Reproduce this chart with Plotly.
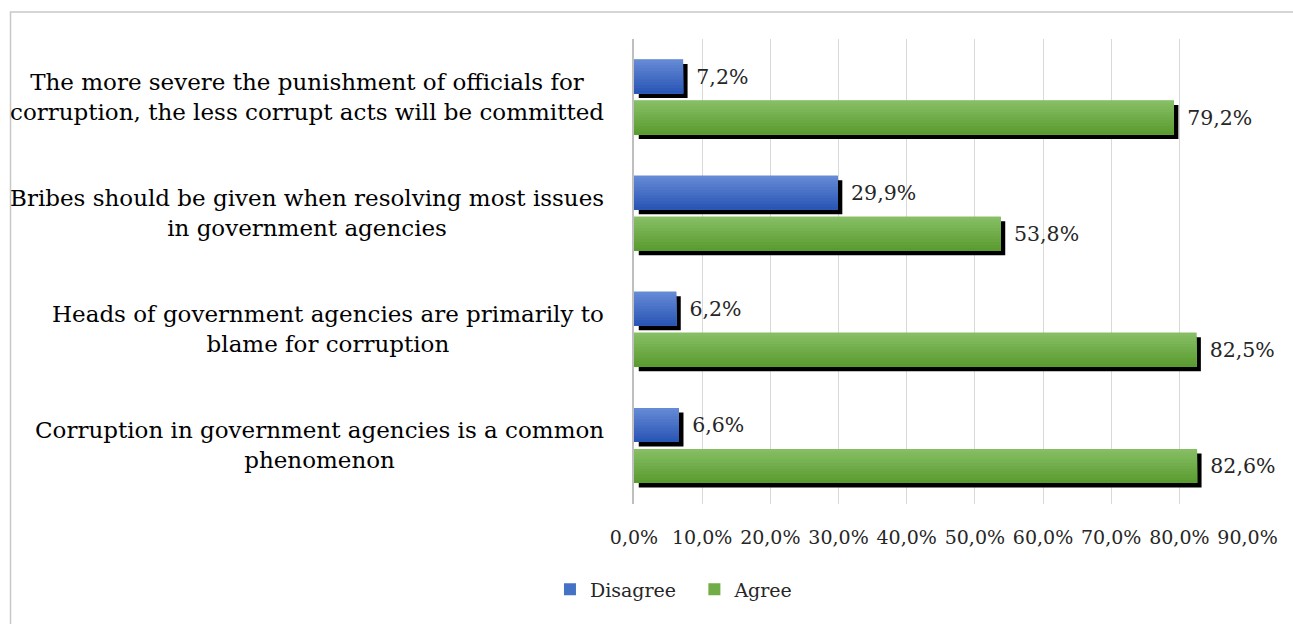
import plotly.graph_objects as go

categories = [
    "The more severe the punishment of officials for<br>corruption, the less corrupt acts will be committed",
    "Bribes should be given when resolving most issues<br>in government agencies",
    "Heads of government agencies are primarily to<br>blame for corruption",
    "Corruption in government agencies is a common<br>phenomenon",
]
cat_ids = ["c1", "c2", "c3", "c4"]
disagree = [7.2, 29.9, 6.2, 6.6]
agree = [79.2, 53.8, 82.5, 82.6]
series_names = ["Disagree", "Agree"]
tick_vals = [0, 10, 20, 30, 40, 50, 60, 70, 80, 90]
tick_text = ["0,0%", "10,0%", "20,0%", "30,0%", "40,0%", "50,0%", "60,0%",
             "70,0%", "80,0%", "90,0%"]

FONT = "DejaVu Serif"
W, H = 1293, 624
L, R_main, T, B_main = 634, 1248, 39, 504
DX, DY = 4.5, 4.5
R_sh, B_sh = R_main + DX, B_main + DY
pw = R_sh - L
ph = B_sh - T
main_xd = [0, (R_main - L) / pw]
sh_xd = [DX / pw, 1]
main_yd = [DY / ph, 1]
sh_yd = [0, (B_main - T) / ph]

cat_px = (B_main - T) / 4.0
bar_h = 34 / cat_px
off_blue = -37.5 / cat_px
off_green = 3.5 / cat_px

colors = {
    "Disagree": ("#4472c4", (100, 137, 213), (42, 86, 181)),
    "Agree": ("#70ad47", (134, 190, 100), (91, 156, 48)),
}
legend_labels = {"Disagree": "Disagree\u2002\u2009", "Agree": "Agree"}

fig = go.Figure()

# subplot 1: grid only
fig.add_trace(go.Scatter(x=[None], y=[None], xaxis="x", yaxis="y",
                         showlegend=False, hoverinfo="skip"))

# subplot 2: shadows
for name, vals, off in [("Disagree", disagree, off_blue), ("Agree", agree, off_green)]:
    fig.add_trace(go.Bar(
        x=vals, y=cat_ids, orientation="h", xaxis="x2", yaxis="y2",
        offset=off, width=bar_h, marker=dict(color="black", line=dict(width=0)),
        showlegend=False, hoverinfo="skip"))

# subplot 3: main gradient bars
N = 12
for name, vals, off in [("Disagree", disagree, off_blue), ("Agree", agree, off_green)]:
    mid, top, bot = colors[name]
    fig.add_trace(go.Bar(
        x=vals, y=cat_ids, orientation="h", xaxis="x3", yaxis="y3",
        name=legend_labels[name],
        offset=off, width=bar_h, marker=dict(color=mid, line=dict(width=0)),
        showlegend=True, legendgroup=name))
    for k in range(N):
        t = k / (N - 1)
        c = tuple(int(round(top[i] + (bot[i] - top[i]) * t)) for i in range(3))
        start = off + bar_h * k / N
        fig.add_trace(go.Bar(
            x=vals, y=cat_ids, orientation="h", xaxis="x3", yaxis="y3",
            offset=start, width=off + bar_h - start,
            marker=dict(color="rgb(%d,%d,%d)" % c, line=dict(width=0)),
            showlegend=False, hoverinfo="skip", legendgroup=name))
    fig.add_trace(go.Bar(
        x=vals, y=cat_ids, orientation="h", xaxis="x3", yaxis="y3",
        offset=off, width=bar_h, marker=dict(color="rgba(0,0,0,0)", line=dict(width=0)),
        texttemplate="\u2002%{x:.1f}%", textposition="outside", cliponaxis=False,
        textfont=dict(family=FONT, size=20.5, color="#262626"),
        showlegend=False, hoverinfo="skip"))

yrange = [3.5, -0.5]
common_y = dict(type="category", categoryorder="array", categoryarray=cat_ids,
                range=yrange, showticklabels=False, showgrid=False, zeroline=False,
                fixedrange=True)

fig.update_layout(
    width=W, height=H,
    margin=dict(l=L, r=W - R_sh, t=T, b=H - B_sh, pad=0),
    paper_bgcolor="white", plot_bgcolor="rgba(0,0,0,0)",
    barmode="overlay",
    separators=",.",
    font=dict(family=FONT, color="#262626"),
    xaxis=dict(domain=main_xd, range=[0, 90], tickvals=tick_vals, ticktext=tick_text,
               showgrid=True, gridcolor="#d9d9d9", gridwidth=1,
               zeroline=False, showline=False, ticks="", anchor="y",
               tickfont=dict(family=FONT, size=19, color="#262626"), ticklabelstandoff=20),
    yaxis=dict(domain=main_yd, anchor="x", showline=True, linecolor="#bfbfbf",
               linewidth=1.5, **common_y),
    xaxis2=dict(domain=sh_xd, range=[0, 90], anchor="y2", showticklabels=False,
                showgrid=False, zeroline=False, showline=False),
    yaxis2=dict(domain=sh_yd, anchor="x2", **common_y),
    xaxis3=dict(domain=main_xd, range=[0, 90], anchor="y3", showticklabels=False,
                showgrid=False, zeroline=False, showline=False),
    yaxis3=dict(domain=main_yd, anchor="x3", **common_y),
    legend=dict(orientation="h", x=(674 - L) / pw, xanchor="center",
                y=(B_sh - 590) / ph, yanchor="middle",
                font=dict(family=FONT, size=19, color="#262626"),
                itemwidth=30, tracegroupgap=0, bgcolor="rgba(0,0,0,0)"),
    showlegend=True,
)

for cid, label in zip(cat_ids, categories):
    fig.add_annotation(x=-(L - 606) / pw, xref="paper", y=cid, yref="y3",
                       text=label, showarrow=False, xanchor="right", yanchor="middle",
                       align="center", font=dict(family=FONT, size=23, color="#000000"))

# chart border
fig.add_shape(type="rect", xref="paper", yref="paper",
              x0=(10 - L) / pw, x1=(1300 - L) / pw,
              y0=(B_sh - 630) / ph, y1=(B_sh - 12) / ph,
              line=dict(color="#c8c8c8", width=1.5), fillcolor="rgba(0,0,0,0)",
              layer="below")

fig.write_html("out.html")
